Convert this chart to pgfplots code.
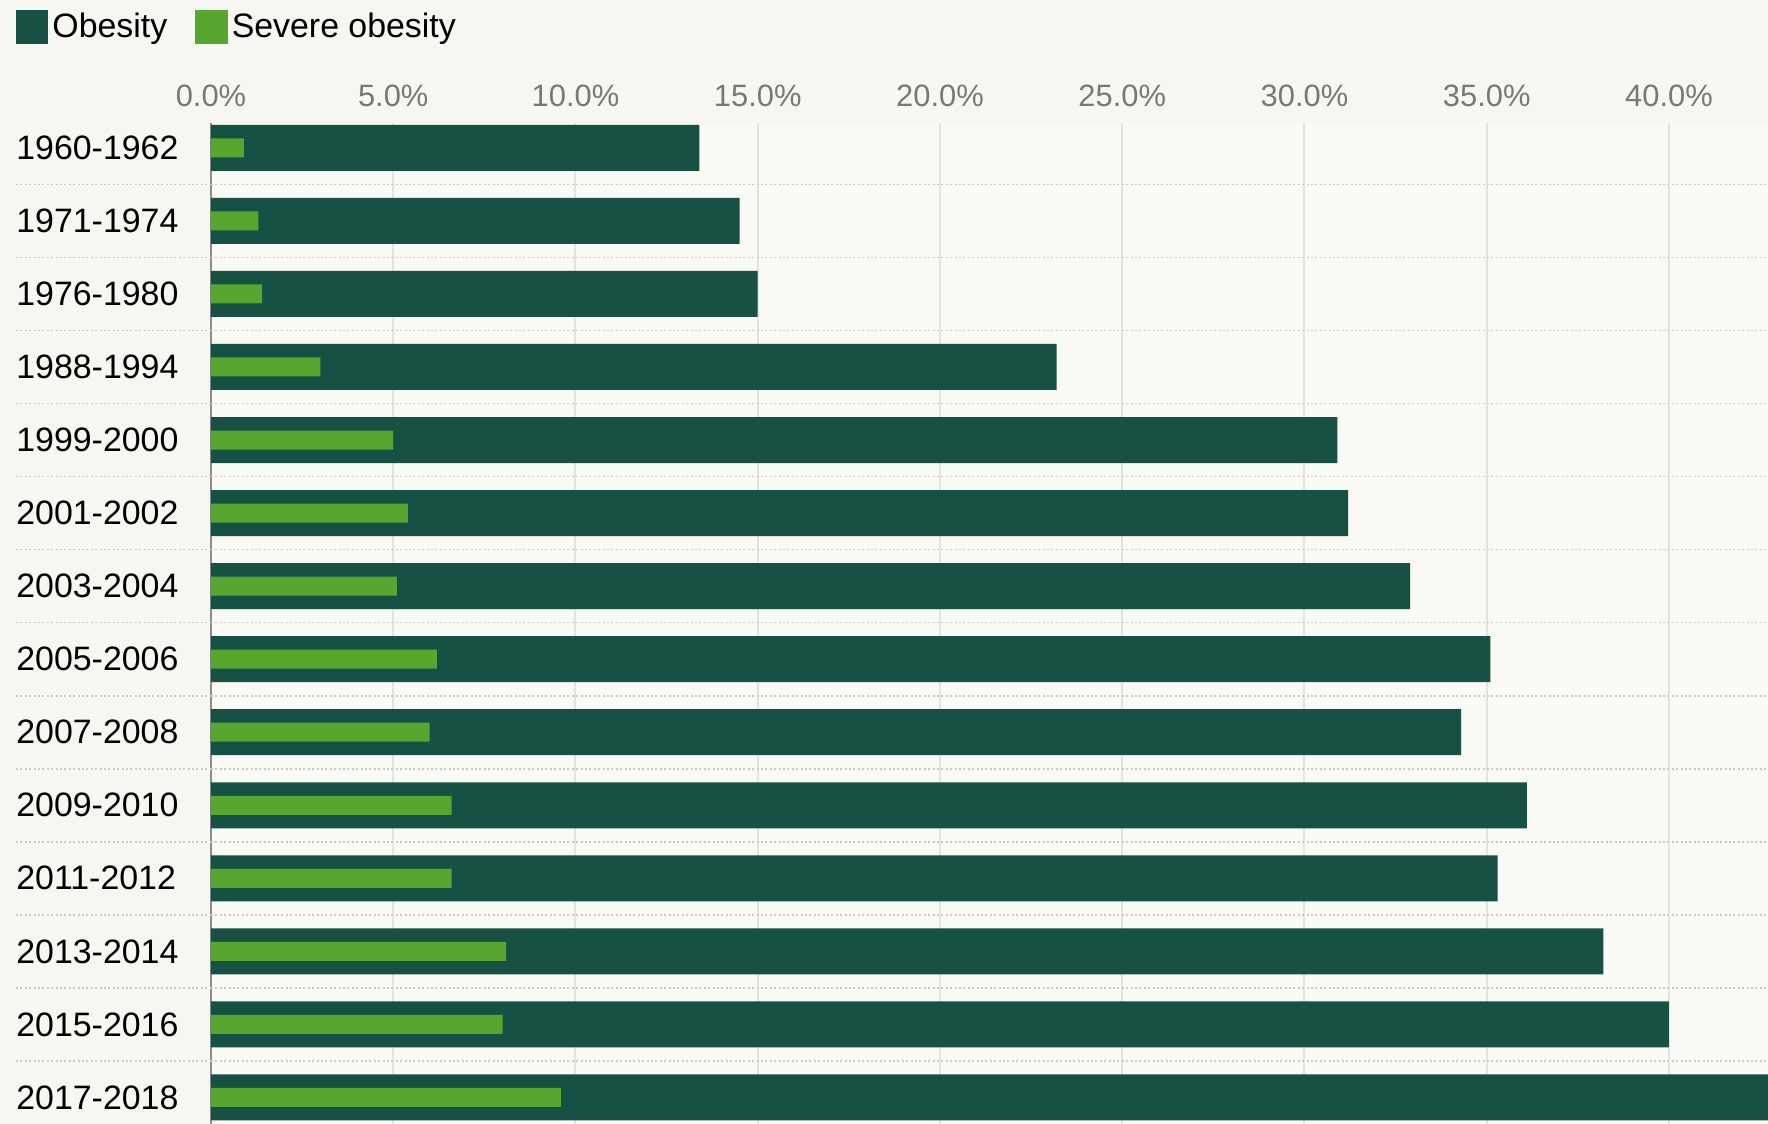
\documentclass[border=0pt]{standalone}
\usepackage{pgfplots}
\pgfplotsset{compat=1.18}
\usepackage{fontspec}
\setmainfont{Liberation Sans}
\definecolor{bg}{HTML}{F6F6F2}
\definecolor{plotbg}{HTML}{F9F9F6}
\definecolor{obes}{HTML}{175143}
\definecolor{severe}{HTML}{56A62F}
\definecolor{tickgray}{HTML}{787878}
\definecolor{gridgray}{HTML}{E3E3DF}
\definecolor{dotgray}{HTML}{C9C9C6}
\definecolor{axisgray}{HTML}{8C8C8C}

\begin{document}
\begin{tikzpicture}
\path[use as bounding box] (0,0) rectangle (884bp,562bp);
\clip (0,0) rectangle (884bp,562bp);
\fill[bg] (0,0) rectangle (884bp,562bp);
\begin{axis}[
    at={(105.5bp,500.5bp)}, anchor=north west,
    scale only axis,
    width=820.1bp, height=505.5bp,
    xbar,
    xmin=0, xmax=45,
    ymin=-0.34, ymax=13.5,
    y dir=reverse,
    axis x line*=top, axis y line*=left,
    x axis line style={draw=none},
    y axis line style={draw=axisgray, line width=0.8bp},
    axis background/.style={fill=plotbg},
    xtick={0,5,...,40},
    xticklabels={0.0\%,5.0\%,10.0\%,15.0\%,20.0\%,25.0\%,30.0\%,35.0\%,40.0\%},
    xmajorgrids,
    major grid style={gridgray, line width=1bp},
    major tick length=0pt,
    xticklabel style={font=\fontsize{15.5}{18}\selectfont, text=tickgray,
        anchor=south, inner sep=0pt, yshift=8bp},
    ytick={0,...,13},
    yticklabels={1960-1962,1971-1974,1976-1980,1988-1994,1999-2000,2001-2002,
        2003-2004,2005-2006,2007-2008,2009-2010,2011-2012,2013-2014,2015-2016,2017-2018},
    yticklabel style={font=\fontsize{17}{20}\selectfont, text=black,
        anchor=west, inner sep=0pt, xshift=-97.5bp},
    extra y ticks={0.5,1.5,...,12.5},
    extra y tick labels={},
    extra y tick style={ymajorgrids,
        major grid style={dotgray, line width=0.8bp, dash pattern=on 1bp off 1.2bp},
        tick style={dotgray, line width=0.8bp, dash pattern=on 1bp off 1.2bp},
        major tick length=97.5bp, tick align=outside},
    legend columns=-1,
    legend style={at={(axis description cs:0,1)}, anchor=north west,
        xshift=-97.5bp, yshift=57bp, draw=none, fill=none,
        inner sep=0pt, outer sep=0pt,
        font=\fontsize{17}{20}\selectfont,
        /tikz/every even column/.append style={column sep=12bp}},
]
\addplot[fill=obes, draw=none, bar width=23bp, bar shift=0pt,
    legend image code/.code={\fill[obes] (0bp,-8.5bp) rectangle (16.25bp,8.5bp);}]
coordinates {
    (13.4,0) (14.5,1) (15.0,2) (23.2,3) (30.9,4) (31.2,5) (32.9,6)
    (35.1,7) (34.3,8) (36.1,9) (35.3,10) (38.2,11) (40.0,12) (42.8,13)
};
\addlegendentry{Obesity}
\addplot[fill=severe, draw=none, bar width=9.5bp, bar shift=0pt,
    legend image code/.code={\fill[severe] (0bp,-8.5bp) rectangle (16.25bp,8.5bp);}]
coordinates {
    (0.9,0) (1.3,1) (1.4,2) (3.0,3) (5.0,4) (5.4,5) (5.1,6)
    (6.2,7) (6.0,8) (6.6,9) (6.6,10) (8.1,11) (8.0,12) (9.6,13)
};
\addlegendentry{Severe obesity}
\end{axis}
\end{tikzpicture}
\end{document}
